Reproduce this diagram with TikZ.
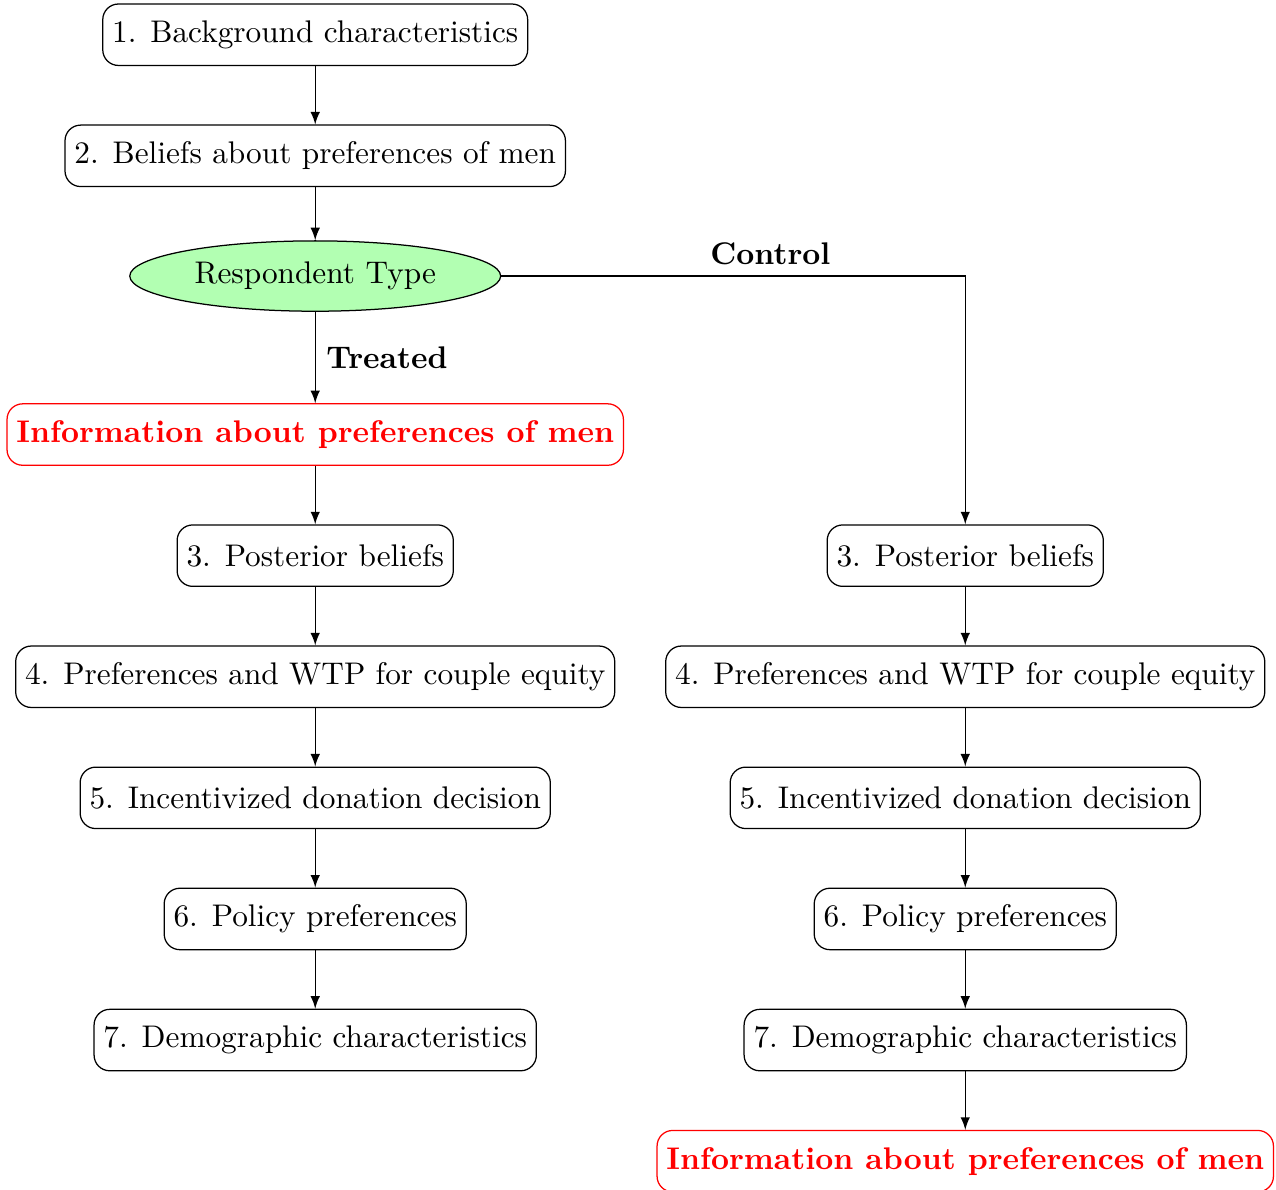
\documentclass[tikz,border=0pt]{standalone}
\usetikzlibrary{shapes.geometric}

\tikzset{
  stage/.style={draw, rounded corners=5pt, minimum height=0.69cm, inner xsep=3pt},
  infobox/.style={stage, draw=red, text=red, font=\bfseries},
  choice/.style={draw, ellipse, fill=green!30, minimum width=4.15cm, minimum height=0.79cm},
  flow/.style={->, >=latex}
}

\begin{document}
\begin{tikzpicture}
  \useasboundingbox (0,0) rectangle (14.33,-13.36);

  % common start
  \node[stage] (bg) at (3.54,-0.39) {1. Background characteristics};
  \node[stage] (prior) at (3.54,-1.75) {2. Beliefs about preferences of men};
  \node[choice] (type) at (3.54,-3.10) {Respondent Type};

  % treated arm
  \node[infobox] (infoT) at (3.54,-4.88) {Information about preferences of men};
  \node[stage] (postT) at (3.54,-6.24) {3. Posterior beliefs};
  \node[stage] (wtpT) at (3.54,-7.60) {4. Preferences and WTP for couple equity};
  \node[stage] (donT) at (3.54,-8.96) {5. Incentivized donation decision};
  \node[stage] (polT) at (3.54,-10.32) {6. Policy preferences};
  \node[stage] (demT) at (3.54,-11.68) {7. Demographic characteristics};

  % control arm
  \node[stage] (postC) at (10.84,-6.24) {3. Posterior beliefs};
  \node[stage] (wtpC) at (10.84,-7.60) {4. Preferences and WTP for couple equity};
  \node[stage] (donC) at (10.84,-8.96) {5. Incentivized donation decision};
  \node[stage] (polC) at (10.84,-10.32) {6. Policy preferences};
  \node[stage] (demC) at (10.84,-11.68) {7. Demographic characteristics};
  \node[infobox] (infoC) at (10.84,-13.04) {Information about preferences of men};

  % arrows
  \draw[flow] (bg) -- (prior);
  \draw[flow] (prior) -- (type);
  \draw[flow] (type) -- node[right, font=\bfseries] {Treated} (infoT);
  \draw[flow] (type) -| node[pos=0.29, above, font=\bfseries] {Control} (postC);
  \draw[flow] (infoT) -- (postT);
  \draw[flow] (postT) -- (wtpT);
  \draw[flow] (wtpT) -- (donT);
  \draw[flow] (donT) -- (polT);
  \draw[flow] (polT) -- (demT);
  \draw[flow] (postC) -- (wtpC);
  \draw[flow] (wtpC) -- (donC);
  \draw[flow] (donC) -- (polC);
  \draw[flow] (polC) -- (demC);
  \draw[flow] (demC) -- (infoC);

\end{tikzpicture}
\end{document}
